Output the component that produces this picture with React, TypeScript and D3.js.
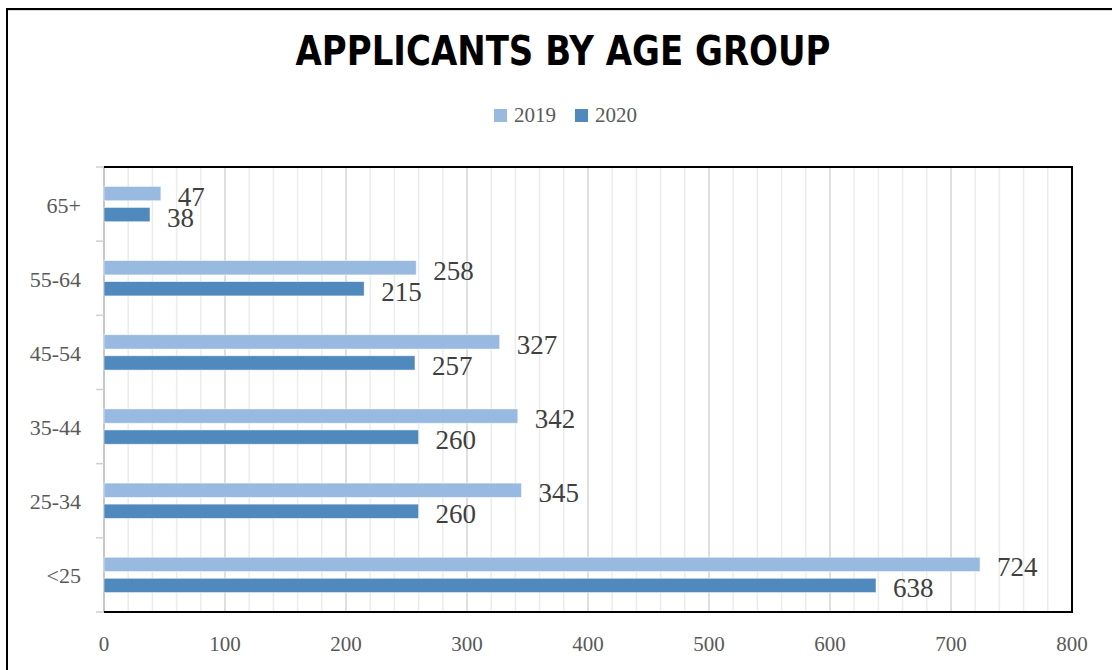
import React from "react";
import * as d3 from "d3";

const categories = ["65+", "55-64", "45-54", "35-44", "25-34", "<25"];
const series = ["2019", "2020"];
const values2019 = [47, 258, 327, 342, 345, 724];
const values2020 = [38, 215, 257, 260, 260, 638];
const xTicks = [0, 100, 200, 300, 400, 500, 600, 700, 800];
const minorTicks = d3.range(0, 801, 20);
const title = "APPLICANTS BY AGE GROUP";

const colors: Record<string, string> = { "2019": "#98B9E0", "2020": "#4F89BD" };

const W = 1112;
const H = 670;
const plot = { left: 104, right: 1072, top: 167, bottom: 612 };

export default function App() {
  const x = d3.scaleLinear().domain([0, 800]).range([plot.left, plot.right]);
  const y = d3
    .scaleBand<string>()
    .domain(categories)
    .range([plot.top, plot.bottom])
    .paddingInner(0.524)
    .paddingOuter(0.262);
  const yInner = d3
    .scaleBand<string>()
    .domain(series)
    .range([0, y.bandwidth()])
    .paddingInner(0.32)
    .paddingOuter(0);
  const step = (plot.bottom - plot.top) / categories.length;
  const boundaries = d3.range(categories.length + 1).map((i) => plot.top + i * step);
  const serif = "'Liberation Serif', 'DejaVu Serif', serif";
  const dataBySeries: Record<string, number[]> = { "2019": values2019, "2020": values2020 };

  return (
    <svg
      width={W}
      height={H}
      style={{ position: "absolute", left: 0, top: 0, display: "block", background: "#fff" }}
    >
      <rect x={0} y={0} width={W} height={H} fill="#fff" />
      {/* outer chart frame */}
      <line x1={7} y1={9} x2={W} y2={9} stroke="#000" strokeWidth={2} />
      <line x1={7} y1={10.5} x2={W} y2={10.5} stroke="#d9d9d9" strokeWidth={1} />
      <line x1={7} y1={8} x2={7} y2={H} stroke="#000" strokeWidth={2} />

      {/* title */}
      <text
        x={563}
        y={65}
        textAnchor="middle"
        fontFamily="'DejaVu Sans', Verdana, sans-serif"
        fontWeight="bold"
        fontSize={40}
        textLength={535}
        lengthAdjust="spacingAndGlyphs"
        fill="#000"
      >
        {title}
      </text>

      {/* legend */}
      {series.map((s, i) => {
        const lx = 494 + i * 81;
        return (
          <g key={s}>
            <rect x={lx} y={109} width={13} height={13} fill={colors[s]} />
            <text x={lx + 20} y={122} fontFamily={serif} fontSize={21} fill="#595959">
              {s}
            </text>
          </g>
        );
      })}

      {/* gridlines */}
      {minorTicks.map((t) => (
        <line
          key={"m" + t}
          x1={x(t)}
          x2={x(t)}
          y1={plot.top}
          y2={plot.bottom}
          stroke={t % 100 === 0 ? "#d4d4d4" : "#ececec"}
          strokeWidth={1.5}
        />
      ))}

      {/* y-axis line and ticks */}
      <line x1={plot.left} x2={plot.left} y1={plot.top} y2={plot.bottom} stroke="#bfbfbf" strokeWidth={1.5} />
      {boundaries.map((b, i) => (
        <line key={"yt" + i} x1={96} x2={plot.left} y1={b} y2={b} stroke="#d0d0d0" strokeWidth={1.5} />
      ))}

      {/* bars */}
      {categories.map((c, ci) =>
        series.map((s) => {
          const v = dataBySeries[s][ci];
          const by = (y(c) as number) + (yInner(s) as number);
          const bh = yInner.bandwidth();
          return (
            <g key={c + s}>
              <rect
                x={x(0)}
                y={by}
                width={x(v) - x(0)}
                height={bh}
                fill={colors[s]}
                stroke="#ffffff"
                strokeOpacity={0.6}
                strokeWidth={0.8}
              />
              <text
                x={x(v) + 17}
                y={by + bh / 2 + 3}
                dominantBaseline="central"
                fontFamily={serif}
                fontSize={27}
                fill="#404040"
              >
                {v}
              </text>
            </g>
          );
        })
      )}

      {/* plot frame: top, right, bottom */}
      <polyline
        points={`${plot.left},${plot.top} ${plot.right},${plot.top} ${plot.right},${plot.bottom} ${plot.left},${plot.bottom}`}
        fill="none"
        stroke="#000"
        strokeWidth={2}
      />

      {/* category labels */}
      {categories.map((c) => (
        <text
          key={"cl" + c}
          x={81}
          y={(y(c) as number) + y.bandwidth() / 2 + 1}
          textAnchor="end"
          dominantBaseline="central"
          fontFamily={serif}
          fontSize={22}
          fill="#595959"
        >
          {c}
        </text>
      ))}

      {/* x tick labels */}
      {xTicks.map((t) => (
        <text
          key={"xl" + t}
          x={x(t)}
          y={651}
          textAnchor="middle"
          fontFamily={serif}
          fontSize={21}
          fill="#595959"
        >
          {t}
        </text>
      ))}
    </svg>
  );
}
